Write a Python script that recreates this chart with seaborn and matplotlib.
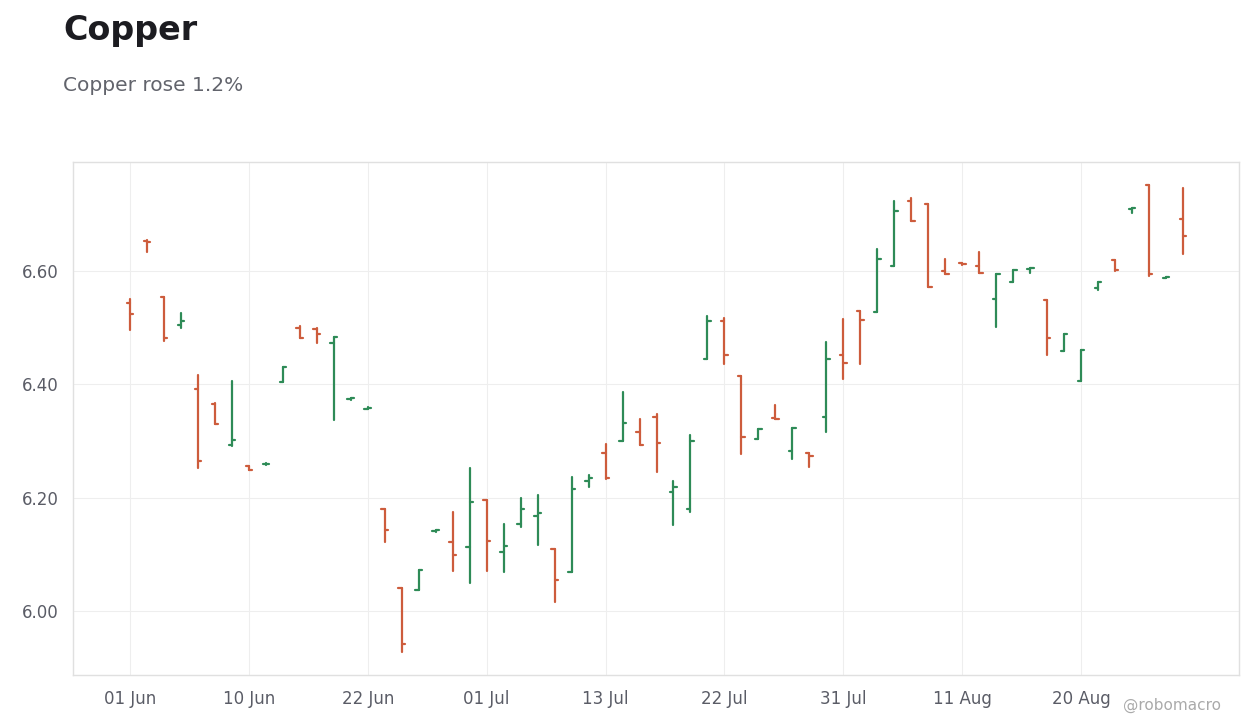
import numpy as np
import pandas as pd
import matplotlib
matplotlib.use("Agg")
import matplotlib.pyplot as plt
import seaborn as sns

# ---- data ----
dates = pd.bdate_range("2020-06-01", "2020-08-28")
dates = dates[~dates.isin(pd.to_datetime(["2020-06-19", "2020-07-03"]))]

opens = [6.544, 6.653, 6.553, 6.505, 6.392, 6.365, 6.292, 6.255, 6.259, 6.404,
         6.500, 6.498, 6.472, 6.374, 6.357, 6.179, 6.040, 6.037, 6.141, 6.121,
         6.112, 6.195, 6.104, 6.154, 6.168, 6.110, 6.069, 6.230, 6.279, 6.300,
         6.316, 6.343, 6.209, 6.180, 6.445, 6.512, 6.415, 6.304, 6.341, 6.283,
         6.278, 6.343, 6.452, 6.530, 6.528, 6.609, 6.724, 6.718, 6.599, 6.613,
         6.608, 6.551, 6.581, 6.6035, 6.549, 6.459, 6.406, 6.569, 6.619, 6.709,
         6.751, 6.588, 6.692]
highs = [6.551, 6.654, 6.554, 6.525, 6.416, 6.366, 6.406, 6.256, 6.261, 6.431,
         6.502, 6.499, 6.484, 6.376, 6.359, 6.179, 6.040, 6.072, 6.143, 6.175,
         6.252, 6.195, 6.154, 6.199, 6.205, 6.110, 6.237, 6.239, 6.295, 6.387,
         6.339, 6.347, 6.229, 6.311, 6.521, 6.517, 6.415, 6.321, 6.363, 6.322,
         6.278, 6.475, 6.515, 6.530, 6.639, 6.724, 6.728, 6.718, 6.621, 6.614,
         6.634, 6.594, 6.601, 6.605, 6.549, 6.488, 6.461, 6.581, 6.619, 6.711,
         6.751, 6.590, 6.747]
lows = [6.495, 6.634, 6.476, 6.500, 6.253, 6.330, 6.291, 6.248, 6.258, 6.404,
        6.482, 6.473, 6.336, 6.373, 6.356, 6.122, 5.928, 6.037, 6.140, 6.071,
        6.050, 6.071, 6.069, 6.148, 6.117, 6.015, 6.069, 6.218, 6.233, 6.300,
        6.293, 6.246, 6.151, 6.174, 6.445, 6.436, 6.276, 6.304, 6.339, 6.268,
        6.254, 6.315, 6.410, 6.435, 6.528, 6.609, 6.688, 6.571, 6.595, 6.611,
        6.597, 6.501, 6.581, 6.596, 6.451, 6.459, 6.406, 6.566, 6.600, 6.702,
        6.591, 6.587, 6.629]
closes = [6.524, 6.650, 6.482, 6.512, 6.264, 6.330, 6.302, 6.249, 6.260, 6.431,
          6.482, 6.489, 6.483, 6.375, 6.358, 6.142, 5.942, 6.072, 6.142, 6.098,
          6.193, 6.124, 6.115, 6.179, 6.172, 6.054, 6.216, 6.234, 6.234, 6.331,
          6.293, 6.297, 6.219, 6.299, 6.512, 6.452, 6.306, 6.321, 6.339, 6.322,
          6.274, 6.445, 6.437, 6.514, 6.620, 6.705, 6.688, 6.571, 6.595, 6.612,
          6.597, 6.594, 6.601, 6.6045, 6.482, 6.488, 6.461, 6.581, 6.601, 6.710,
          6.595, 6.589, 6.661]

title = "Copper"
subtitle = "Copper rose 1.2%"
credit = "@robomacro"

UP = "#2e8b57"
DOWN = "#cd5c3c"

# ---- build long-form tables for seaborn ----
n = len(opens)
idx = np.arange(n)
direction = np.where(np.array(closes) >= np.array(opens), "up", "down")
tw = 0.2  # tick half-width in category units

hl_rows, tick_rows = [], []
for i in idx:
    d = direction[i]
    hl_rows += [(i, i, lows[i], d), (i, i, highs[i], d)]
    tick_rows += [(f"o{i}", i - tw, opens[i], d), (f"o{i}", i, opens[i], d),
                  (f"c{i}", i, closes[i], d), (f"c{i}", i + tw, closes[i], d)]
hl = pd.DataFrame(hl_rows, columns=["unit", "x", "y", "dir"])
ticks = pd.DataFrame(tick_rows, columns=["unit", "x", "y", "dir"])

# ---- style ----
sns.set_theme(style="white")
plt.rcParams["font.family"] = ["DejaVu Sans"]

fig = plt.figure(figsize=(12.6, 7.28), dpi=100)
ax = fig.add_axes([73 / 1260, 1 - 675 / 728, (1239 - 73) / 1260, (675 - 162) / 728])

pal = {"up": UP, "down": DOWN}
sns.lineplot(data=hl, x="x", y="y", units="unit", hue="dir", estimator=None,
             sort=False, palette=pal, linewidth=1.6, legend=False, ax=ax)
sns.lineplot(data=ticks, x="x", y="y", units="unit", hue="dir", estimator=None,
             sort=False, palette=pal, linewidth=1.6, legend=False, ax=ax)

ax.set_xlim(-3.36, 65.3)
ax.set_ylim(5.887, 6.792)
tick_idx = idx[::7][:9]
ax.set_xticks(tick_idx)
ax.set_xticklabels([dates[i].strftime("%d %b") for i in tick_idx])
ax.set_yticks([6.0, 6.2, 6.4, 6.6])
ax.set_yticklabels(["6.00", "6.20", "6.40", "6.60"])
ax.set_xlabel("")
ax.set_ylabel("")

ax.grid(True, color="#eeeeee", linewidth=0.8)
ax.set_axisbelow(True)
for s in ax.spines.values():
    s.set_color("#e0e0e0")
    s.set_linewidth(1.0)
    s.set_visible(True)
ax.tick_params(axis="both", which="both", length=4, width=1, color="#666666",
               labelcolor="#5a5c66", labelsize=12, direction="out")
ax.tick_params(axis="x", pad=7)
ax.tick_params(axis="y", pad=6)

fig.text(63 / 1260, 1 - 14 / 728, title, fontsize=24, fontweight="bold",
         color="#1c1c21", ha="left", va="top")
fig.text(63 / 1260, 1 - 76 / 728, subtitle, fontsize=14.5, color="#62646c",
         ha="left", va="top")
fig.text(1172 / 1260, 1 - 705 / 728, credit, fontsize=11, color="#aaaaaa",
         ha="center", va="center")

fig.savefig("out.png", dpi=100, facecolor="white")
